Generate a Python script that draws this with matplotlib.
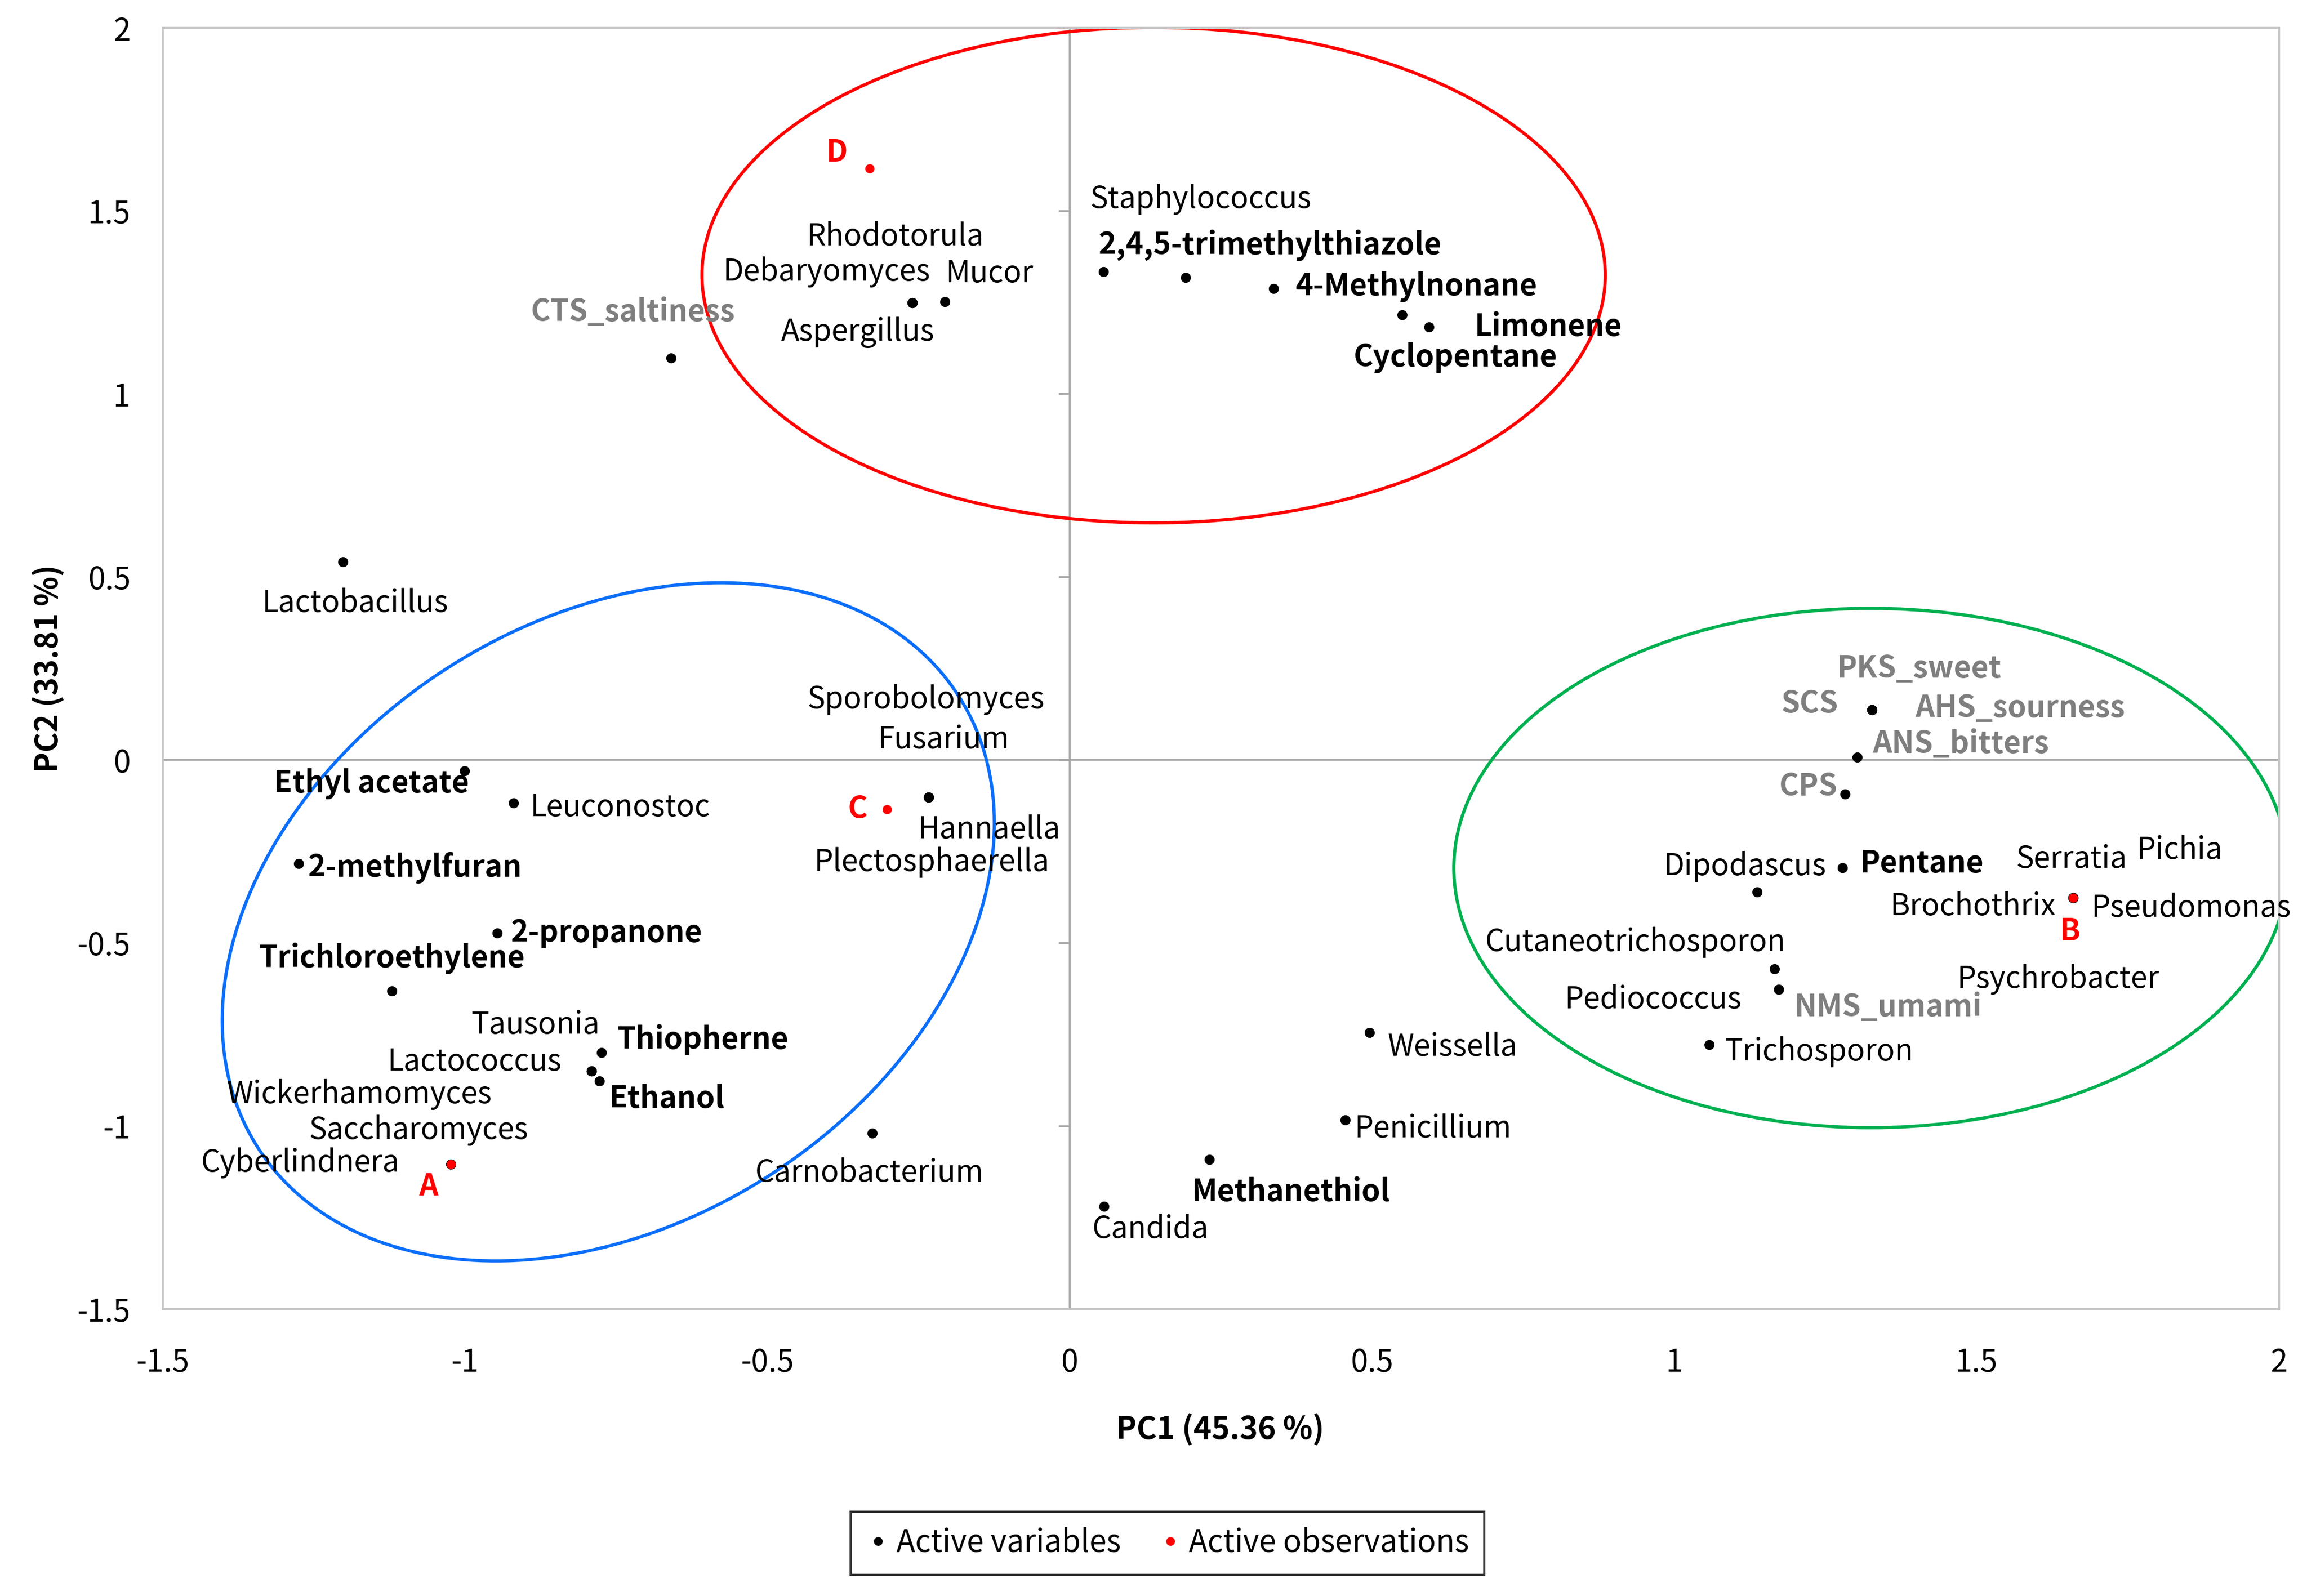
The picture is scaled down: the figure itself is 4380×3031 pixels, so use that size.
import numpy as np
import matplotlib
matplotlib.use("Agg")
import matplotlib.pyplot as plt
from matplotlib.patches import Ellipse
from matplotlib.lines import Line2D

plt.rcParams['font.family'] = ['Noto Sans CJK KR', 'DejaVu Sans']
plt.rcParams['axes.unicode_minus'] = False

# ---------------- data ----------------
var_names = ["Staphylococcus", "2,4,5-trimethylthiazole", "4-Methylnonane", "Cyclopentane", "Limonene",
             "Rhodotorula", "Debaryomyces", "Aspergillus", "Mucor", "CTS_saltiness", "Lactobacillus",
             "Ethyl acetate", "Leuconostoc", "2-methylfuran", "2-propanone", "Trichloroethylene",
             "Thiopherne", "Tausonia", "Lactococcus", "Wickerhamomyces", "Saccharomyces", "Ethanol",
             "Cyberlindnera", "Hannaella", "Sporobolomyces", "Fusarium", "Plectosphaerella",
             "Carnobacterium", "Candida", "Methanethiol", "Penicillium", "Weissella",
             "Trichosporon", "Pediococcus", "NMS_umami", "Cutaneotrichosporon", "Dipodascus", "Pentane",
             "Serratia", "Pichia", "Brochothrix", "Pseudomonas", "Psychrobacter",
             "CPS", "ANS_bitters", "SCS", "PKS_sweet", "AHS_sourness"]
var_x = [0.056, 0.192, 0.337, 0.550, 0.594,
         -0.260, -0.260, -0.260, -0.206, -0.659, -1.202,
         -1.001, -0.920, -1.275, -0.947, -1.121,
         -0.774, -0.791, -0.791, -0.791, -0.791, -0.778,
         -1.023, -0.233, -0.233, -0.233, -0.233,
         -0.326, 0.057, 0.231, 0.456, 0.496,
         1.058, 1.173, 1.173, 1.166, 1.137, 1.278,
         1.660, 1.660, 1.660, 1.660, 1.660,
         1.283, 1.303, 1.327, 1.327, 1.327]
var_y = [1.334, 1.318, 1.289, 1.216, 1.184,
         1.249, 1.249, 1.249, 1.253, 1.099, 0.541,
         -0.029, -0.118, -0.283, -0.473, -0.631,
         -0.800, -0.849, -0.849, -0.849, -0.849, -0.877,
         -1.104, -0.101, -0.101, -0.101, -0.101,
         -1.019, -1.220, -1.091, -0.983, -0.744,
         -0.777, -0.627, -0.627, -0.570, -0.360, -0.295,
         -0.376, -0.376, -0.376, -0.376, -0.376,
         -0.093, 0.008, 0.137, 0.137, 0.137]

obs_names = ["A", "B", "C", "D"]
obs_x = [-1.023, 1.660, -0.302, -0.331]
obs_y = [-1.104, -0.376, -0.134, 1.617]

# label positions (text centres) and styles: n=normal, b=bold, g=grey sensory, r=red observation
lab_text = ["D", "Staphylococcus", "2,4,5-trimethylthiazole", "4-Methylnonane", "Limonene", "Cyclopentane",
            "Rhodotorula", "Debaryomyces", "Mucor", "Aspergillus", "CTS_saltiness", "Lactobacillus",
            "Sporobolomyces", "Fusarium", "Ethyl acetate", "Leuconostoc", "C", "Hannaella",
            "Plectosphaerella", "2-methylfuran", "2-propanone", "Trichloroethylene", "Tausonia",
            "Thiopherne", "Lactococcus", "Ethanol", "Wickerhamomyces", "Saccharomyces", "Cyberlindnera",
            "A", "Carnobacterium", "Candida", "Methanethiol", "Penicillium", "Weissella",
            "PKS_sweet", "SCS", "AHS_sourness", "ANS_bitters", "CPS", "Dipodascus", "Pentane",
            "Serratia", "Pichia", "Brochothrix", "B", "Pseudomonas", "Cutaneotrichosporon",
            "Psychrobacter", "Pediococcus", "NMS_umami", "Trichosporon"]
lab_x = [-0.385, 0.217, 0.332, 0.574, 0.792, 0.638,
         -0.289, -0.402, -0.133, -0.350, -0.722, -1.182,
         -0.238, -0.209, -1.155, -0.744, -0.350, -0.133,
         -0.228, -1.082, -0.766, -1.121, -0.884,
         -0.607, -0.984, -0.666, -1.175, -1.077, -1.272,
         -1.060, -0.331, 0.134, 0.366, 0.601, 0.633,
         1.405, 1.224, 1.572, 1.474, 1.222, 1.117, 1.410,
         1.657, 1.836, 1.494, 1.655, 1.855, 0.936,
         1.635, 0.965, 1.354, 1.239]
lab_y = [1.661, 1.532, 1.406, 1.293, 1.184, 1.099,
         1.430, 1.333, 1.329, 1.168, 1.224, 0.428,
         0.165, 0.056, -0.065, -0.130, -0.134, -0.190,
         -0.279, -0.295, -0.473, -0.542, -0.724,
         -0.764, -0.825, -0.926, -0.914, -1.011, -1.100,
         -1.165, -1.128, -1.282, -1.181, -1.007, -0.785,
         0.250, 0.153, 0.141, 0.044, -0.073, -0.291, -0.283,
         -0.271, -0.247, -0.401, -0.469, -0.405, -0.498,
         -0.599, -0.655, -0.675, -0.797]
lab_style = ["r", "n", "b", "b", "b", "b",
             "n", "n", "n", "n", "g", "n",
             "n", "n", "b", "n", "r", "n",
             "n", "b", "b", "b", "n",
             "b", "n", "b", "n", "n", "n",
             "r", "n", "n", "b", "n", "n",
             "g", "g", "g", "g", "g", "n", "b",
             "n", "n", "n", "r", "n", "n",
             "n", "n", "g", "n"]

xticks = [-1.5, -1, -0.5, 0, 0.5, 1, 1.5, 2]
yticks = [-1.5, -1, -0.5, 0, 0.5, 1, 1.5, 2]
xtick_labels = ["-1.5", "-1", "-0.5", "0", "0.5", "1", "1.5", "2"]
ytick_labels = ["-1.5", "-1", "-0.5", "0", "0.5", "1", "1.5", "2"]

# groups (ellipses): centre x, centre y, width, height in data units
red_ell = (0.139, 1.325, 1.494, 1.354)
green_ell = (1.325, -0.295, 1.379, 1.419)
# blue ellipse: centre (data), semi-axes as fraction of axes width, tilt angle (deg, on screen)
blue_ell = (-0.763, -0.442, 0.197, 0.142, 33.0)

# ---------------- figure ----------------
W, H, DPI = 4380, 3031, 200
fig = plt.figure(figsize=(W / DPI, H / DPI), dpi=DPI)
ax = fig.add_axes([0.0705, 0.1798, 0.9173, 0.8026])
ax.set_xlim(-1.5, 2)
ax.set_ylim(-1.5, 2)

for sp in ax.spines.values():
    sp.set_color("#C8C8C8")
    sp.set_linewidth(1.4)

ax.axhline(0, color="#A6A6A6", lw=1.3, zorder=1)
ax.axvline(0, color="#A6A6A6", lw=1.3, zorder=1)
ax.hlines(yticks, -0.018, 0, color="#A6A6A6", lw=1.3, zorder=1)

ax.set_xticks(xticks)
ax.set_xticklabels(xtick_labels)
ax.set_yticks(yticks)
ax.set_yticklabels(ytick_labels)
ax.tick_params(axis="both", length=0, labelsize=21, colors="#000000")
ax.tick_params(axis="x", pad=26)
ax.tick_params(axis="y", pad=22)

# ellipses
cx, cy, w, h = red_ell
ax.add_patch(Ellipse((cx, cy), w, h, fill=False, ec="#FF0000", lw=2.2, zorder=2))
cx, cy, w, h = green_ell
ax.add_patch(Ellipse((cx, cy), w, h, fill=False, ec="#00B050", lw=2.2, zorder=2))

ax_w_px = 0.9173 * W
ax_h_px = 0.8026 * H
per_x = ax_w_px / 3.5
per_y = ax_h_px / 3.5
bcx, bcy, af, bf, ang = blue_ell
a = af * ax_w_px
b = bf * ax_w_px
th = np.deg2rad(ang)
t = np.linspace(0, 2 * np.pi, 500)
dx = a * np.cos(t) * np.cos(th) - b * np.sin(t) * np.sin(th)
dy = a * np.cos(t) * np.sin(th) + b * np.sin(t) * np.cos(th)
ax.plot(bcx + dx / per_x, bcy + dy / per_y, color="#0A6EFA", lw=2.2, zorder=2)

# points
ax.scatter(var_x, var_y, s=48, color="black", zorder=4, linewidths=0)
ax.scatter(obs_x, obs_y, s=40, color="#FF0000", zorder=5, linewidths=0)

styles = {
    "n": dict(color="black", fontweight="normal"),
    "b": dict(color="black", fontweight="bold"),
    "g": dict(color="#7F7F7F", fontweight="bold"),
    "r": dict(color="#FF0000", fontweight="bold"),
}
for txt, x, y, st in zip(lab_text, lab_x, lab_y, lab_style):
    ax.text(x, y, txt, ha="center", va="center", fontsize=20.5, zorder=6, **styles[st])

fig.text(0.529, 0.104, "PC1 (45.36 %)", ha="center", va="center", fontsize=21, fontweight="bold")
fig.text(0.0212, 0.581, "PC2 (33.81 %)", ha="center", va="center", fontsize=21, fontweight="bold",
         rotation=90)

handles = [Line2D([], [], ls="none", marker="o", ms=5, color="black"),
           Line2D([], [], ls="none", marker="o", ms=5, color="#FF0000")]
leg = fig.legend(handles, ["Active variables", "Active observations"], loc="center",
                 bbox_to_anchor=(0.506, 0.033), ncol=2, fontsize=21, frameon=True,
                 fancybox=False, edgecolor="black", handletextpad=0.2, columnspacing=1.2,
                 handlelength=0.8, borderpad=0.5)
leg.get_frame().set_linewidth(1.5)

fig.savefig("out.png", dpi=DPI)
